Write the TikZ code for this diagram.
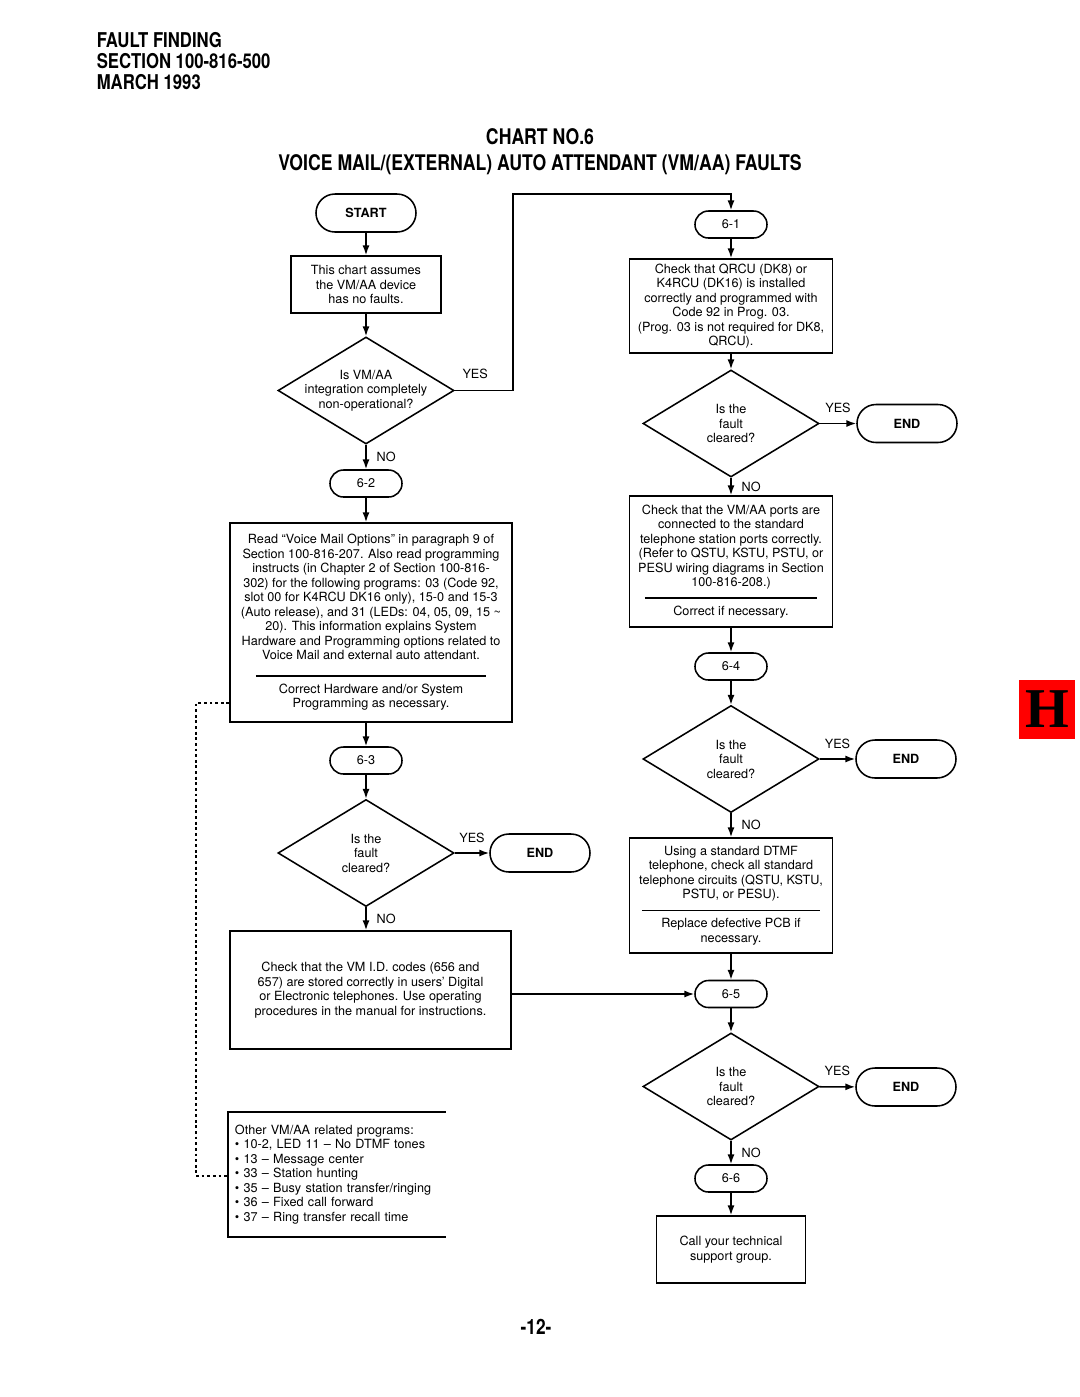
\documentclass[tikz,border=0pt]{standalone}
\usepackage{fontspec}
\setmainfont{TeX Gyre Heros}
\newfontfamily\condfont[FakeStretch=0.82]{TeX Gyre Heros}
\newfontfamily\tabfont{Liberation Serif}
\usetikzlibrary{shapes.geometric,arrows.meta}

\tikzset{
  pill/.style={draw, rectangle, rounded corners=0.475cm, minimum width=2.5cm, minimum height=0.95cm, inner sep=0pt, font=\bfseries},
  conn/.style={draw, rectangle, rounded corners=0.3375cm, minimum width=1.8cm, minimum height=0.675cm, inner sep=0pt},
  box/.style={draw, rectangle, align=center, inner sep=0pt},
  ask/.style={draw, diamond, aspect=1.65, minimum width=4.4cm, minimum height=2.675cm, inner sep=0pt, align=center},
  dots/.style={dash pattern=on 2pt off 2pt, line width=1pt},
}

\begin{document}
\fontsize{9}{10.3}\selectfont
\begin{tikzpicture}[x=0.025cm, y=-0.025cm, line width=1.1pt, >={Latex[length=7pt,width=5pt]}]
\useasboundingbox (0,0) rectangle (1080,1397);

% heading
\node[anchor=north west, align=left, inner sep=0pt, font=\condfont\bfseries\fontsize{14.5}{14.9}\selectfont] (HEAD) at (96,32) {FAULT FINDING\\SECTION 100-816-500\\MARCH 1993};
\node[anchor=north, align=center, inner sep=0pt, font=\condfont\bfseries\fontsize{15.3}{18.5}\selectfont] (TITLE) at (540,128) {CHART NO.6\\VOICE MAIL/(EXTERNAL) AUTO ATTENDANT (VM/AA) FAULTS};

% left column
\node[pill] (START) at (366,213) {START};
\node[box, minimum width=3.75cm, minimum height=1.425cm] (INTRO) at (366,284.5) {This chart assumes\\the VM/AA device\\has no faults.};
\node[ask, inner xsep=-0.35cm] (Q1) at (366,390.5) {Is VM/AA\\integration completely\\non-operational?};
\node[conn] (C62) at (366,483.5) {6-2};
\node[box, minimum width=7.05cm, minimum height=4.975cm] (READ) at (371,622.5) {Read “Voice Mail Options” in paragraph 9 of\\Section 100-816-207. Also read programming\\instructs (in Chapter 2 of Section 100-816-\\302) for the following programs: 03 (Code 92,\\slot 00 for K4RCU DK16 only), 15-0 and 15-3\\(Auto release), and 31 (LEDs: 04, 05, 09, 15 \textasciitilde\\20). This information explains System\\Hardware and Programming options related to\\Voice Mail and external auto attendant.\\[1.7pt]\rule{5.75cm}{0.9pt}\\[1.7pt]Correct Hardware and/or System\\Programming as necessary.};
\node[conn] (C63) at (366,760.5) {6-3};
\node[ask] (Q2) at (366,853) {Is the\\fault\\cleared?};
\node[pill] (END1) at (540,853) {END};
\node[box, minimum width=7.025cm, minimum height=2.95cm] (VMID) at (370.5,990) {Check that the VM I.D. codes (656 and\\657) are stored correctly in users’ Digital\\or Electronic telephones. Use operating\\procedures in the manual for instructions.};
\node[box, draw=none, align=left, text width=5.1cm, inner xsep=0.15cm, minimum height=3.075cm] (OTHER) at (337,1174.5) {Other VM/AA related programs:\\• 10-2, LED 11 – No DTMF tones\\• 13 – Message center\\• 33 – Station hunting\\• 35 – Busy station transfer/ringing\\• 36 – Fixed call forward\\• 37 – Ring transfer recall time};
\draw (OTHER.north east) -- (OTHER.north west) -- (OTHER.south west) -- (OTHER.south east);

% right column
\node[conn] (C61) at (731,224.5) {6-1};
\node[box, minimum width=5.075cm, minimum height=2.35cm] (QRCU) at (731,306) {Check that QRCU (DK8) or\\K4RCU (DK16) is installed\\correctly and programmed with\\Code 92 in Prog. 03.\\(Prog. 03 is not required for DK8,\\QRCU).};
\node[ask] (Q3) at (731,423.5) {Is the\\fault\\cleared?};
\node[pill] (END2) at (907,423.5) {END};
\node[box, minimum width=5.075cm, minimum height=3.275cm] (PORTS) at (731,561.5) {Check that the VM/AA ports are\\connected to the standard\\telephone station ports correctly.\\(Refer to QSTU, KSTU, PSTU, or\\PESU wiring diagrams in Section\\100-816-208.)\\[-1.8pt]\rule{4.3cm}{0.9pt}\\[1.7pt]Correct if necessary.};
\node[conn] (C64) at (731,666.5) {6-4};
\node[ask] (Q4) at (731,759) {Is the\\fault\\cleared?};
\node[pill] (END3) at (906,759) {END};
\node[box, minimum width=5.075cm, minimum height=2.875cm] (DTMF) at (731,895.5) {Using a standard DTMF\\telephone, check all standard\\telephone circuits (QSTU, KSTU,\\PSTU, or PESU).\\[-1.8pt]\rule{4.45cm}{0.9pt}\\[1.7pt]Replace defective PCB if\\necessary.};
\node[conn] (C65) at (731,994) {6-5};
\node[ask] (Q5) at (731,1086.5) {Is the\\fault\\cleared?};
\node[pill] (END4) at (906,1087) {END};
\node[conn] (C66) at (731,1178.5) {6-6};
\node[box, minimum width=3.725cm, minimum height=1.675cm] (CALL) at (731,1249.5) {Call your technical\\support group.};

% tab and page number
\node[fill=red, minimum width=1.4cm, minimum height=1.475cm, inner sep=0pt, font=\tabfont\bfseries\fontsize{40}{40}\selectfont] (TAB) at (1047,709.5) {H};
\node[inner sep=0pt, font=\condfont\bfseries\fontsize{15}{18}\selectfont] (PAGE) at (536,1327) {-12-};

% connectors
\coordinate (TURN) at (513,194);
\coordinate (DOTA) at (196,703);
\coordinate (DOTB) at (196,1176);
\draw[->] (START) -- (INTRO);
\draw[->] (INTRO) -- (Q1);
\draw[->] (Q1.east) -- node[above=5pt, pos=0.35]{YES} (Q1.east -| TURN) -- (TURN) -| (C61.north);
\draw[->] (Q1) -- (C62) node[midway,right=4pt]{NO};
\draw[->] (C62) -- (C62 |- READ.north);
\draw[->] (READ.south -| C63) -- (C63);
\draw[->] (C63) -- (Q2);
\draw[->] (Q2) -- (END1) node[midway,above=4pt]{YES};
\draw[->] (Q2) -- (Q2 |- VMID.north) node[midway,right=4pt]{NO};
\draw[->] (VMID.east |- C65) -- (C65.west);
\draw[dots] (READ.west |- DOTA) -- (DOTA) -- (DOTB) -- (OTHER.west |- DOTB);

\draw[->] (C61) -- (QRCU);
\draw[->] (QRCU) -- (Q3);
\draw[->] (Q3) -- (END2) node[midway,above=4pt]{YES};
\draw[->] (Q3) -- (PORTS) node[midway,right=4pt]{NO};
\draw[->] (PORTS) -- (C64);
\draw[->] (C64) -- (Q4);
\draw[->] (Q4) -- (END3) node[midway,above=4pt]{YES};
\draw[->] (Q4) -- (DTMF) node[midway,right=4pt]{NO};
\draw[->] (DTMF) -- (C65);
\draw[->] (C65) -- (Q5);
\draw[->] (Q5) -- (END4) node[midway,above=4pt]{YES};
\draw[->] (Q5) -- (C66) node[midway,right=4pt]{NO};
\draw[->] (C66) -- (CALL);
\end{tikzpicture}
\end{document}
